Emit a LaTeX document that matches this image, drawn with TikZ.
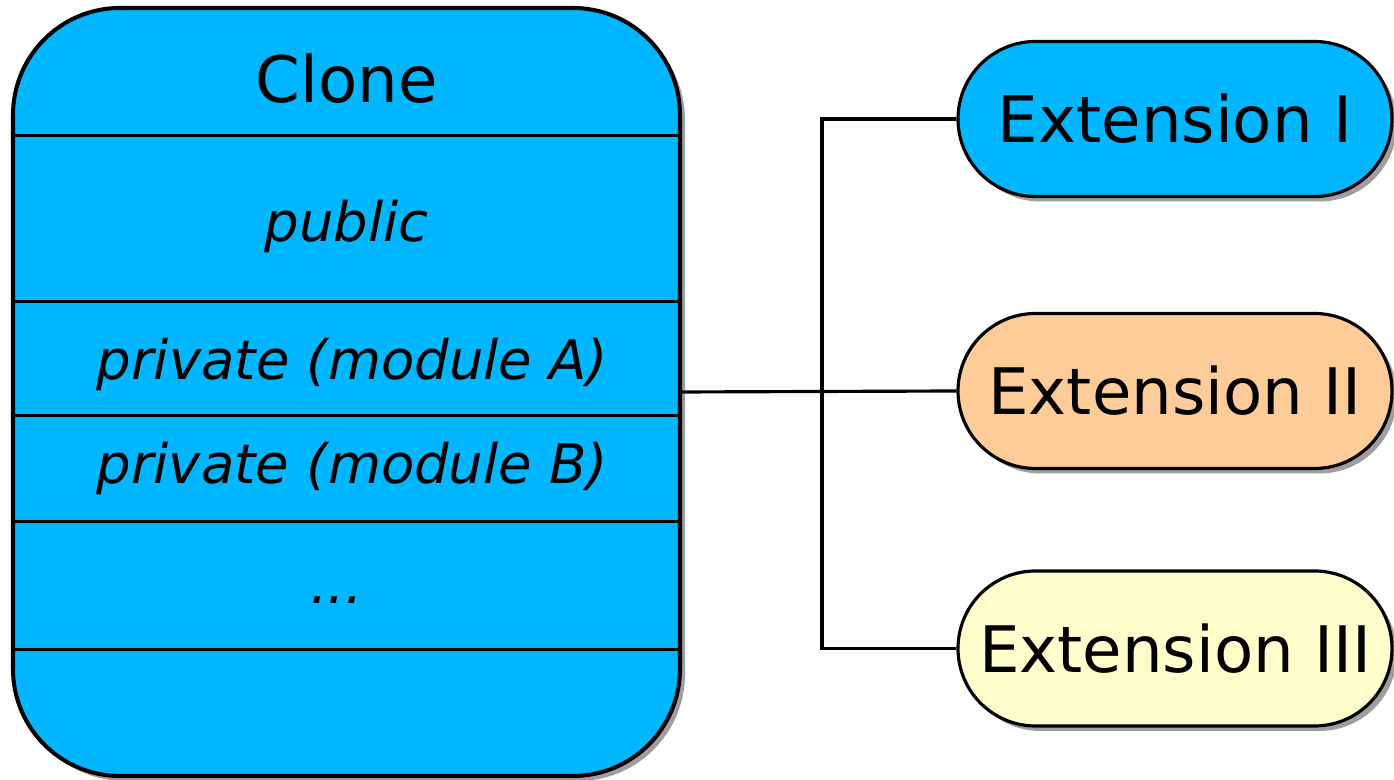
\documentclass[tikz,border=0pt]{standalone}
\usepackage{fontspec}
\setmainfont{DejaVu Sans}
\usetikzlibrary{shadows,positioning}
\definecolor{cloneblue}{HTML}{00B7FF}
\definecolor{extorange}{HTML}{FECC99}
\definecolor{extyellow}{HTML}{FEFDCC}
\begin{document}
\begin{tikzpicture}[
    shade/.style={drop shadow={shadow xshift=0.1cm, shadow yshift=-0.1cm, fill=black!38, opacity=1}},
    ext/.style={rectangle, draw, line width=1.8pt, rounded corners=1.55cm, minimum width=8.68cm, minimum height=3.1cm, font=\fontsize{36.5}{40}\selectfont, shade},
    part/.style={anchor=base, font=\fontsize{31}{36}\selectfont\itshape},
    wire/.style={line width=1.8pt}
]
    \useasboundingbox (0,0) rectangle (27.88,15.6);

    % Clone
    \node [rectangle, draw, line width=2.3pt, fill=cloneblue, rounded corners=2.14cm, minimum width=13.34cm, minimum height=15.36cm, shade] (clone) at (6.93,7.76) {};
    \node [anchor=base, font=\fontsize{36.5}{40}\selectfont] (title) at (6.93,13.54) {Clone};
    \node [part] (public) at (6.93,10.76) {public};
    \node [part] (privA) at (7.05,8.00) {private (module A)};
    \node [part] (privB) at (7.05,5.92) {private (module B)};
    \node [part] (more) at (6.73,3.52) {...};

    % Compartments
    \foreach \y in {12.88,9.56,7.28,5.16,2.60}
        \draw [line width=1.7pt] (clone.west |- 0,\y) -- (clone.east |- 0,\y);

    % Extensions
    \node [ext, fill=cloneblue] (ext1) at (23.5,13.22) {Extension I};
    \node [ext, fill=extorange] (ext2) at (23.5,7.78) {Extension II};
    \node [ext, fill=extyellow] (ext3) at (23.5,2.63) {Extension III};

    % Connectors
    \coordinate (bus) at (16.44,7.76);
    \draw [wire] (clone.east) -- (ext2.west);
    \draw [wire] (ext1.west) -- (ext1.west -| bus) -- (ext3.west -| bus) -- (ext3.west);
\end{tikzpicture}
\end{document}
